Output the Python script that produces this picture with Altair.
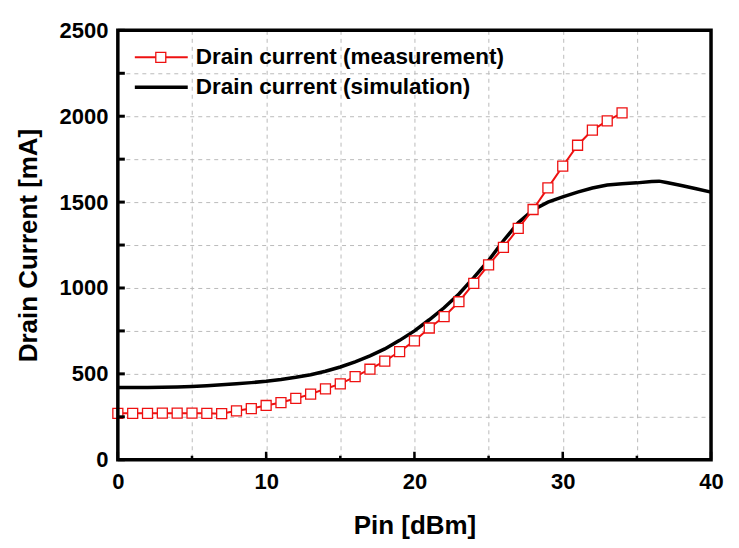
import altair as alt
import pandas as pd

# Measurement (Pin 0..34 dBm)
meas_x = list(range(0, 35))
meas_y = [270, 270, 270, 271, 271, 271, 270, 268, 285, 298, 316, 333, 357, 382, 413,
          442, 484, 527, 574, 630, 692, 767, 833, 920, 1027, 1134, 1236, 1347, 1457,
          1583, 1709, 1831, 1919, 1973, 2019]

# Simulation
sim_x = [0, 1, 2, 3, 4, 5, 6, 7, 8, 9, 10, 11, 12, 13, 14, 15, 16, 17, 18, 19, 20,
         21, 22, 23, 24, 25, 26, 27, 28, 29, 30, 31, 32, 33, 34, 35, 36, 36.5, 37, 38, 39, 40]
sim_y = [420, 420, 421, 422, 424, 427, 431, 436, 442, 449, 457, 467, 480, 495, 515,
         540, 570, 605, 645, 695, 750, 815, 885, 965, 1060, 1160, 1275, 1380, 1455,
         1500, 1530, 1558, 1582, 1600, 1607, 1612, 1620, 1622, 1614, 1597, 1578, 1558]

x_ticks_major = [0, 10, 20, 30, 40]
x_ticks_minor = [5, 15, 25, 35]
y_ticks = [0, 250, 500, 750, 1000, 1250, 1500, 1750, 2000, 2250, 2500]

legend_labels = ["Drain current (measurement)", "Drain current (simulation)"]

RED = "#ee1111"
W, H = 594, 430
FONT = "Liberation Sans"

meas = pd.DataFrame({"x": meas_x, "y": meas_y})
sim = pd.DataFrame({"x": sim_x, "y": sim_y})

xs = alt.Scale(domain=[0, 40], nice=False, zero=False)
ys = alt.Scale(domain=[0, 2500], nice=False)

x_enc = alt.X("x:Q", scale=xs, axis=alt.Axis(
    title="Pin [dBm]", values=[0, 5, 10, 15, 20, 25, 30, 35, 40],
    labelExpr="datum.value % 10 == 0 ? datum.label : ''",
    tickSize=0, domain=False, labelPadding=12, titlePadding=20,
    labelFontSize=22, titleFontSize=26, labelFontWeight="bold", titleFontWeight="bold",
    labelFont=FONT, titleFont=FONT, labelColor="black", titleColor="black",
    grid=True, gridDash=[4, 4], gridColor="#bbbbbb", gridWidth=1, labelFlush=False))
y_enc = alt.Y("y:Q", scale=ys, axis=alt.Axis(
    title="Drain Current [mA]", values=y_ticks,
    labelExpr="datum.value % 500 == 0 ? datum.label : ''",
    tickSize=0, domain=False, labelPadding=10, titlePadding=18,
    labelFontSize=22, titleFontSize=26, labelFontWeight="bold", titleFontWeight="bold",
    labelFont=FONT, titleFont=FONT, labelColor="black", titleColor="black",
    grid=True, gridDash=[4, 4], gridColor="#bbbbbb", gridWidth=1, format="d"))

sim_line = alt.Chart(sim).mark_line(color="black", strokeWidth=3.5).encode(x=x_enc, y=y_enc)
meas_line = alt.Chart(meas).mark_line(color=RED, strokeWidth=2).encode(x="x:Q", y="y:Q")
meas_pts = alt.Chart(meas).mark_point(shape="square", size=100, filled=True, fill="white",
                                      stroke=RED, strokeWidth=1.3, opacity=1).encode(x="x:Q", y="y:Q")

# frame
frame = alt.Chart(pd.DataFrame({"label": ["frame"]})).mark_rect(
    filled=False, stroke="black", strokeWidth=3.5, fillOpacity=0).encode(
    x=alt.value(0), x2=alt.value(W), y=alt.value(0), y2=alt.value(H))

# inward ticks
xmaj = alt.Chart(pd.DataFrame({"x": x_ticks_major})).mark_rule(color="black", strokeWidth=2.5).encode(
    x="x:Q", y=alt.value(H), y2=alt.value(H - 8))
xmin = alt.Chart(pd.DataFrame({"x": x_ticks_minor})).mark_rule(color="black", strokeWidth=2.5).encode(
    x="x:Q", y=alt.value(H), y2=alt.value(H - 4))
yt = alt.Chart(pd.DataFrame({"y": y_ticks})).mark_rule(color="black", strokeWidth=3).encode(
    y="y:Q", x=alt.value(0), x2=alt.value(7))

# legend
leg = pd.DataFrame({"label": legend_labels})
l1 = alt.Chart(leg.iloc[[0]]).mark_rule(color=RED, strokeWidth=2).encode(
    x=alt.value(17), x2=alt.value(70), y=alt.value(27))
l1p = alt.Chart(leg.iloc[[0]]).mark_point(shape="square", size=100, filled=True, fill="white",
                                          stroke=RED, strokeWidth=1.3, opacity=1).encode(
    x=alt.value(43), y=alt.value(27))
l1t = alt.Chart(leg.iloc[[0]]).mark_text(align="left", baseline="middle", fontSize=22.5,
                                         fontWeight="bold", font=FONT, color="black").encode(
    x=alt.value(78), y=alt.value(27), text="label:N")
l2 = alt.Chart(leg.iloc[[1]]).mark_rule(color="black", strokeWidth=3.5).encode(
    x=alt.value(17), x2=alt.value(70), y=alt.value(57))
l2t = alt.Chart(leg.iloc[[1]]).mark_text(align="left", baseline="middle", fontSize=22.5,
                                         fontWeight="bold", font=FONT, color="black").encode(
    x=alt.value(78), y=alt.value(57), text="label:N")

chart = alt.layer(sim_line, meas_line, meas_pts, frame, xmaj, xmin, yt, l1, l1p, l1t, l2, l2t).properties(
    width=W, height=H,
    autosize=alt.AutoSizeParams(type="none"),
    padding={"left": 110, "top": 22, "right": 20, "bottom": 85},
).configure(background="white").configure_view(stroke=None)

chart.save("out.html", embed_options={"renderer": "svg", "actions": False})
